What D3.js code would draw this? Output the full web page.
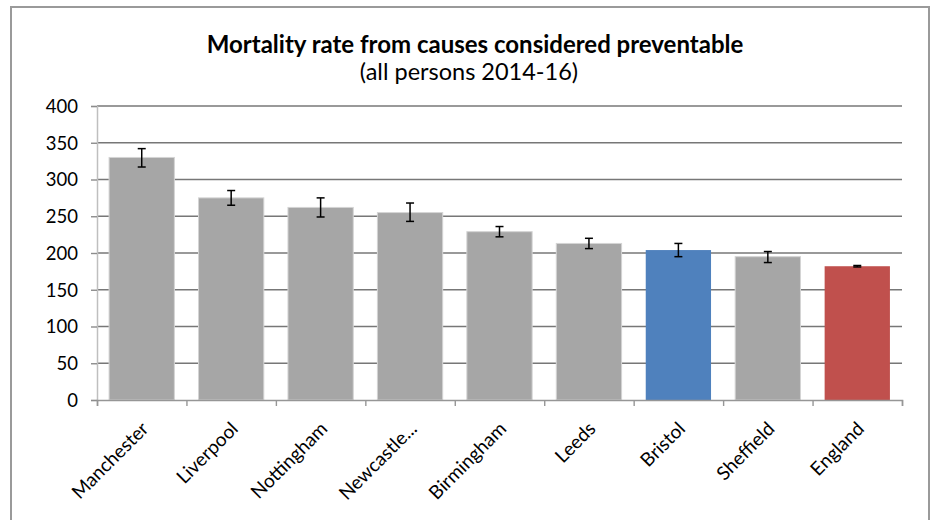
<!DOCTYPE html>
<html>
<head>
<meta charset="utf-8">
<script src="https://cdn.jsdelivr.net/npm/d3@7"></script>
<style>
  body { margin: 0; background: #fff; }
  text { font-family: Lato, 'Open Sans', sans-serif; fill: #000; }
</style>
</head>
<body>
<div id="chart"></div>
<script>
// Data
const areas = [ 'Manchester', 'Liverpool', 'Nottingham', 'Newcastle...', 'Birmingham', 'Leeds', 'Bristol', 'Sheffield', 'England' ];
const rates = [ 330, 275, 262, 255, 229, 213, 204, 195, 182 ];
const lower = [ 317, 265, 249, 243, 222, 206, 195, 187, 181 ];
const upper = [ 342, 285, 275, 268, 236, 220, 213, 202, 183 ];
const yTicks = [ 0, 50, 100, 150, 200, 250, 300, 350, 400 ];
const barColors = { 'Bristol': '#4f81bd', 'England': '#c0504d' };

const data = areas.map( function( a, i ) {
  return { area: a, rate: rates[i], lo: lower[i], hi: upper[i] };
});

const W = 936, H = 520;
const margin = { top: 106, right: 34, bottom: 120, left: 97 },
    width = W - margin.left - margin.right,
    height = H - margin.top - margin.bottom;

const svg = d3.select( '#chart' )
  .append( 'svg' )
    .attr( 'width', W )
    .attr( 'height', H );

// outer frame
svg.append( 'rect' )
    .attr( 'x', 11 ).attr( 'y', 7 )
    .attr( 'width', 918 ).attr( 'height', 530 )
    .style( 'fill', 'none' )
    .style( 'stroke', '#9a9a9a' )
    .style( 'stroke-width', 2 );

// titles
svg.append( 'text' )
    .attr( 'x', 475 ).attr( 'y', 53 )
    .attr( 'text-anchor', 'middle' )
    .style( 'font-size', '24px' )
    .style( 'font-weight', 'bold' )
    .text( 'Mortality rate from causes considered preventable' );
svg.append( 'text' )
    .attr( 'x', 469 ).attr( 'y', 80 )
    .attr( 'text-anchor', 'middle' )
    .style( 'font-size', '23.5px' )
    .text( '(all persons 2014-16)' );

const g = svg.append( 'g' )
    .attr( 'transform', 'translate( ' + margin.left + ', ' + margin.top + ' )' );

const xScale = d3.scaleBand()
    .domain( areas )
    .range( [0, width] )
    .paddingInner( 0.27 )
    .paddingOuter( 0.135 );

const yScale = d3.scaleLinear()
    .domain( [0, 400] )
    .range( [height, 0] );

// gridlines
g.selectAll( 'line.grid' )
    .data( yTicks.filter( function( t ){ return t > 0; } ) )
    .enter()
    .append( 'line' )
      .attr( 'class', 'grid' )
      .attr( 'x1', 0 ).attr( 'x2', width )
      .attr( 'y1', function( d ){ return yScale( d ); } )
      .attr( 'y2', function( d ){ return yScale( d ); } )
      .style( 'stroke', '#777' )
      .style( 'stroke-width', 1.5 );

// y axis
const yAxis = g.append( 'g' )
    .call( d3.axisLeft( yScale ).tickValues( yTicks ).tickSize( 6 ).tickPadding( 13 ) );
yAxis.select( '.domain' ).style( 'stroke', '#bfbfbf' ).style( 'stroke-width', 1.5 );
yAxis.selectAll( '.tick line' ).style( 'stroke', '#8c8c8c' ).style( 'stroke-width', 1.4 );
yAxis.selectAll( '.tick text' ).style( 'font-size', '18.5px' ).attr( 'dy', '0.35em' );

// bars
g.selectAll( 'rect.bar' )
    .data( data )
    .enter()
    .append( 'rect' )
      .attr( 'class', 'bar' )
      .attr( 'x', function( d ){ return xScale( d.area ); } )
      .attr( 'y', function( d ){ return yScale( d.rate ); } )
      .attr( 'width', xScale.bandwidth() )
      .attr( 'height', function( d ){ return height - yScale( d.rate ); } )
      .style( 'fill', function( d ){ return barColors[d.area] || '#a6a6a6'; } )
      .style( 'stroke', function( d ){ return barColors[d.area] ? 'none' : '#d4d4d4'; } )
      .style( 'stroke-width', 1 );

// x axis (ticks on category boundaries)
const xBound = d3.scaleLinear().domain( [0, areas.length] ).range( [0, width] );
const xAxis = g.append( 'g' )
    .attr( 'transform', 'translate( 0, ' + height + ' )' )
    .call( d3.axisBottom( xBound ).ticks( areas.length ).tickSize( 6 ).tickFormat( '' ) );
xAxis.select( '.domain' ).style( 'stroke', '#969696' ).style( 'stroke-width', 1.5 );
xAxis.selectAll( '.tick line' ).style( 'stroke', '#969696' ).style( 'stroke-width', 1.4 );

// category labels, rotated
g.selectAll( 'text.cat' )
    .data( areas )
    .enter()
    .append( 'text' )
      .attr( 'class', 'cat' )
      .attr( 'text-anchor', 'end' )
      .style( 'font-size', '19px' )
      .attr( 'transform', function( d ){
        const cx = xScale( d ) + xScale.bandwidth() / 2 + 8;
        return 'translate( ' + cx + ', ' + ( height + 30 ) + ' ) rotate( -45 )';
      })
      .text( function( d ){ return d; } );

// error bars
const err = g.selectAll( 'g.err' )
    .data( data )
    .enter()
    .append( 'g' )
      .attr( 'class', 'err' )
      .attr( 'transform', function( d ){ return 'translate( ' + ( xScale( d.area ) + xScale.bandwidth() / 2 ) + ', 0 )'; } )
      .style( 'stroke', '#000' )
      .style( 'stroke-width', 1.5 );
err.append( 'line' )
    .attr( 'x1', 0 ).attr( 'x2', 0 )
    .attr( 'y1', function( d ){ return yScale( d.hi ); } )
    .attr( 'y2', function( d ){ return yScale( d.lo ); } );
err.append( 'line' )
    .attr( 'x1', -4 ).attr( 'x2', 4 )
    .attr( 'y1', function( d ){ return yScale( d.hi ); } )
    .attr( 'y2', function( d ){ return yScale( d.hi ); } );
err.append( 'line' )
    .attr( 'x1', -4 ).attr( 'x2', 4 )
    .attr( 'y1', function( d ){ return yScale( d.lo ); } )
    .attr( 'y2', function( d ){ return yScale( d.lo ); } );
</script>
</body>
</html>
